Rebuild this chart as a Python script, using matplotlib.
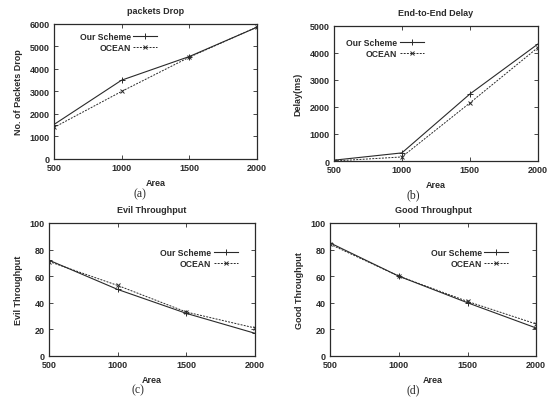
import numpy as np
import matplotlib
matplotlib.use("Agg")
import matplotlib.pyplot as plt

plt.rcParams['font.family'] = ['Liberation Sans', 'DejaVu Sans']

# donnees
area = [500, 1000, 1500, 2000]

drop_ours = [1530, 3500, 4550, 5850]
drop_ocean = [1400, 3000, 4520, 5860]

delay_ours = [30, 300, 2480, 4330]
delay_ocean = [0, 150, 2150, 4200]

evil_ours = [72, 50, 32, 17]
evil_ocean = [71, 53, 33, 21]

good_ours = [85, 60, 40, 21]
good_ocean = [84, 60, 41, 24]

titles = ["packets Drop", "End-to-End Delay", "Evil Throughput", "Good Throughput"]
ylabels = ["No. of Packets Drop", "Delay(ms)", "Evil Throughput", "Good Throughput"]
captions = ["(a)", "(b)", "(c)", "(d)"]

fig = plt.figure(figsize=(5.5, 4.02), dpi=100)

# positions des axes [gauche, bas, largeur, hauteur]
positions = [[0.098, 0.602, 0.369, 0.336],
             [0.607, 0.597, 0.371, 0.336],
             [0.089, 0.112, 0.375, 0.331],
             [0.600, 0.112, 0.375, 0.331]]
ylims = [(0, 6000), (0, 5000), (0, 100), (0, 100)]
yticks = [np.arange(0, 6001, 1000), np.arange(0, 5001, 1000),
          np.arange(0, 101, 20), np.arange(0, 101, 20)]
legpos = [(0.51, 0.94), (0.44, 0.91), (0.915, 0.81), (0.865, 0.81)]
cappos = [(0.255, 0.517), (0.752, 0.514), (0.25, 0.03), (0.752, 0.03)]

series = [(drop_ours, drop_ocean), (delay_ours, delay_ocean),
          (evil_ours, evil_ocean), (good_ours, good_ocean)]

col = '#2a2a2a'
for i in range(4):
    ax = fig.add_axes(positions[i])
    ours, ocean = series[i]
    ax.plot(area, ours, color=col, lw=0.8, ls='-', marker='+', ms=4.5, mew=0.7, label="Our Scheme")
    ax.plot(area, ocean, color=col, lw=0.7, ls=(0, (2, 1.3)), marker='x', ms=3.5, mew=0.7, label="OCEAN")
    ax.set_xlim(500, 2000)
    ax.set_ylim(*ylims[i])
    ax.set_xticks(area)
    ax.set_yticks(yticks[i])
    ax.tick_params(direction='in', top=True, right=True, length=3, width=0.6,
                   labelsize=6.5, pad=3, colors=col)
    for lab in ax.get_xticklabels() + ax.get_yticklabels():
        lab.set_fontweight('bold')
    for s in ax.spines.values():
        s.set_linewidth(0.9)
        s.set_color(col)
    ax.set_title(titles[i], fontsize=6.5, fontweight='bold', pad=8, color=col)
    ax.set_xlabel("Area", fontsize=6.5, fontweight='bold', labelpad=4, color=col)
    ax.set_ylabel(ylabels[i], fontsize=6.5, fontweight='bold', labelpad=5, color=col)
    leg = ax.legend(loc='upper right', bbox_to_anchor=legpos[i], frameon=False,
                    markerfirst=False, fontsize=6.2, handlelength=2.8,
                    handletextpad=0.3, labelspacing=0.2, borderpad=0, borderaxespad=0)
    for t in leg.get_texts():
        t.set_fontweight('bold')
        t.set_color(col)
    fig.text(cappos[i][0], cappos[i][1], captions[i], family=['Liberation Serif', 'DejaVu Serif'],
             fontsize=8.5, ha='center', va='center', color=col)

fig.savefig("out.png", dpi=100)
